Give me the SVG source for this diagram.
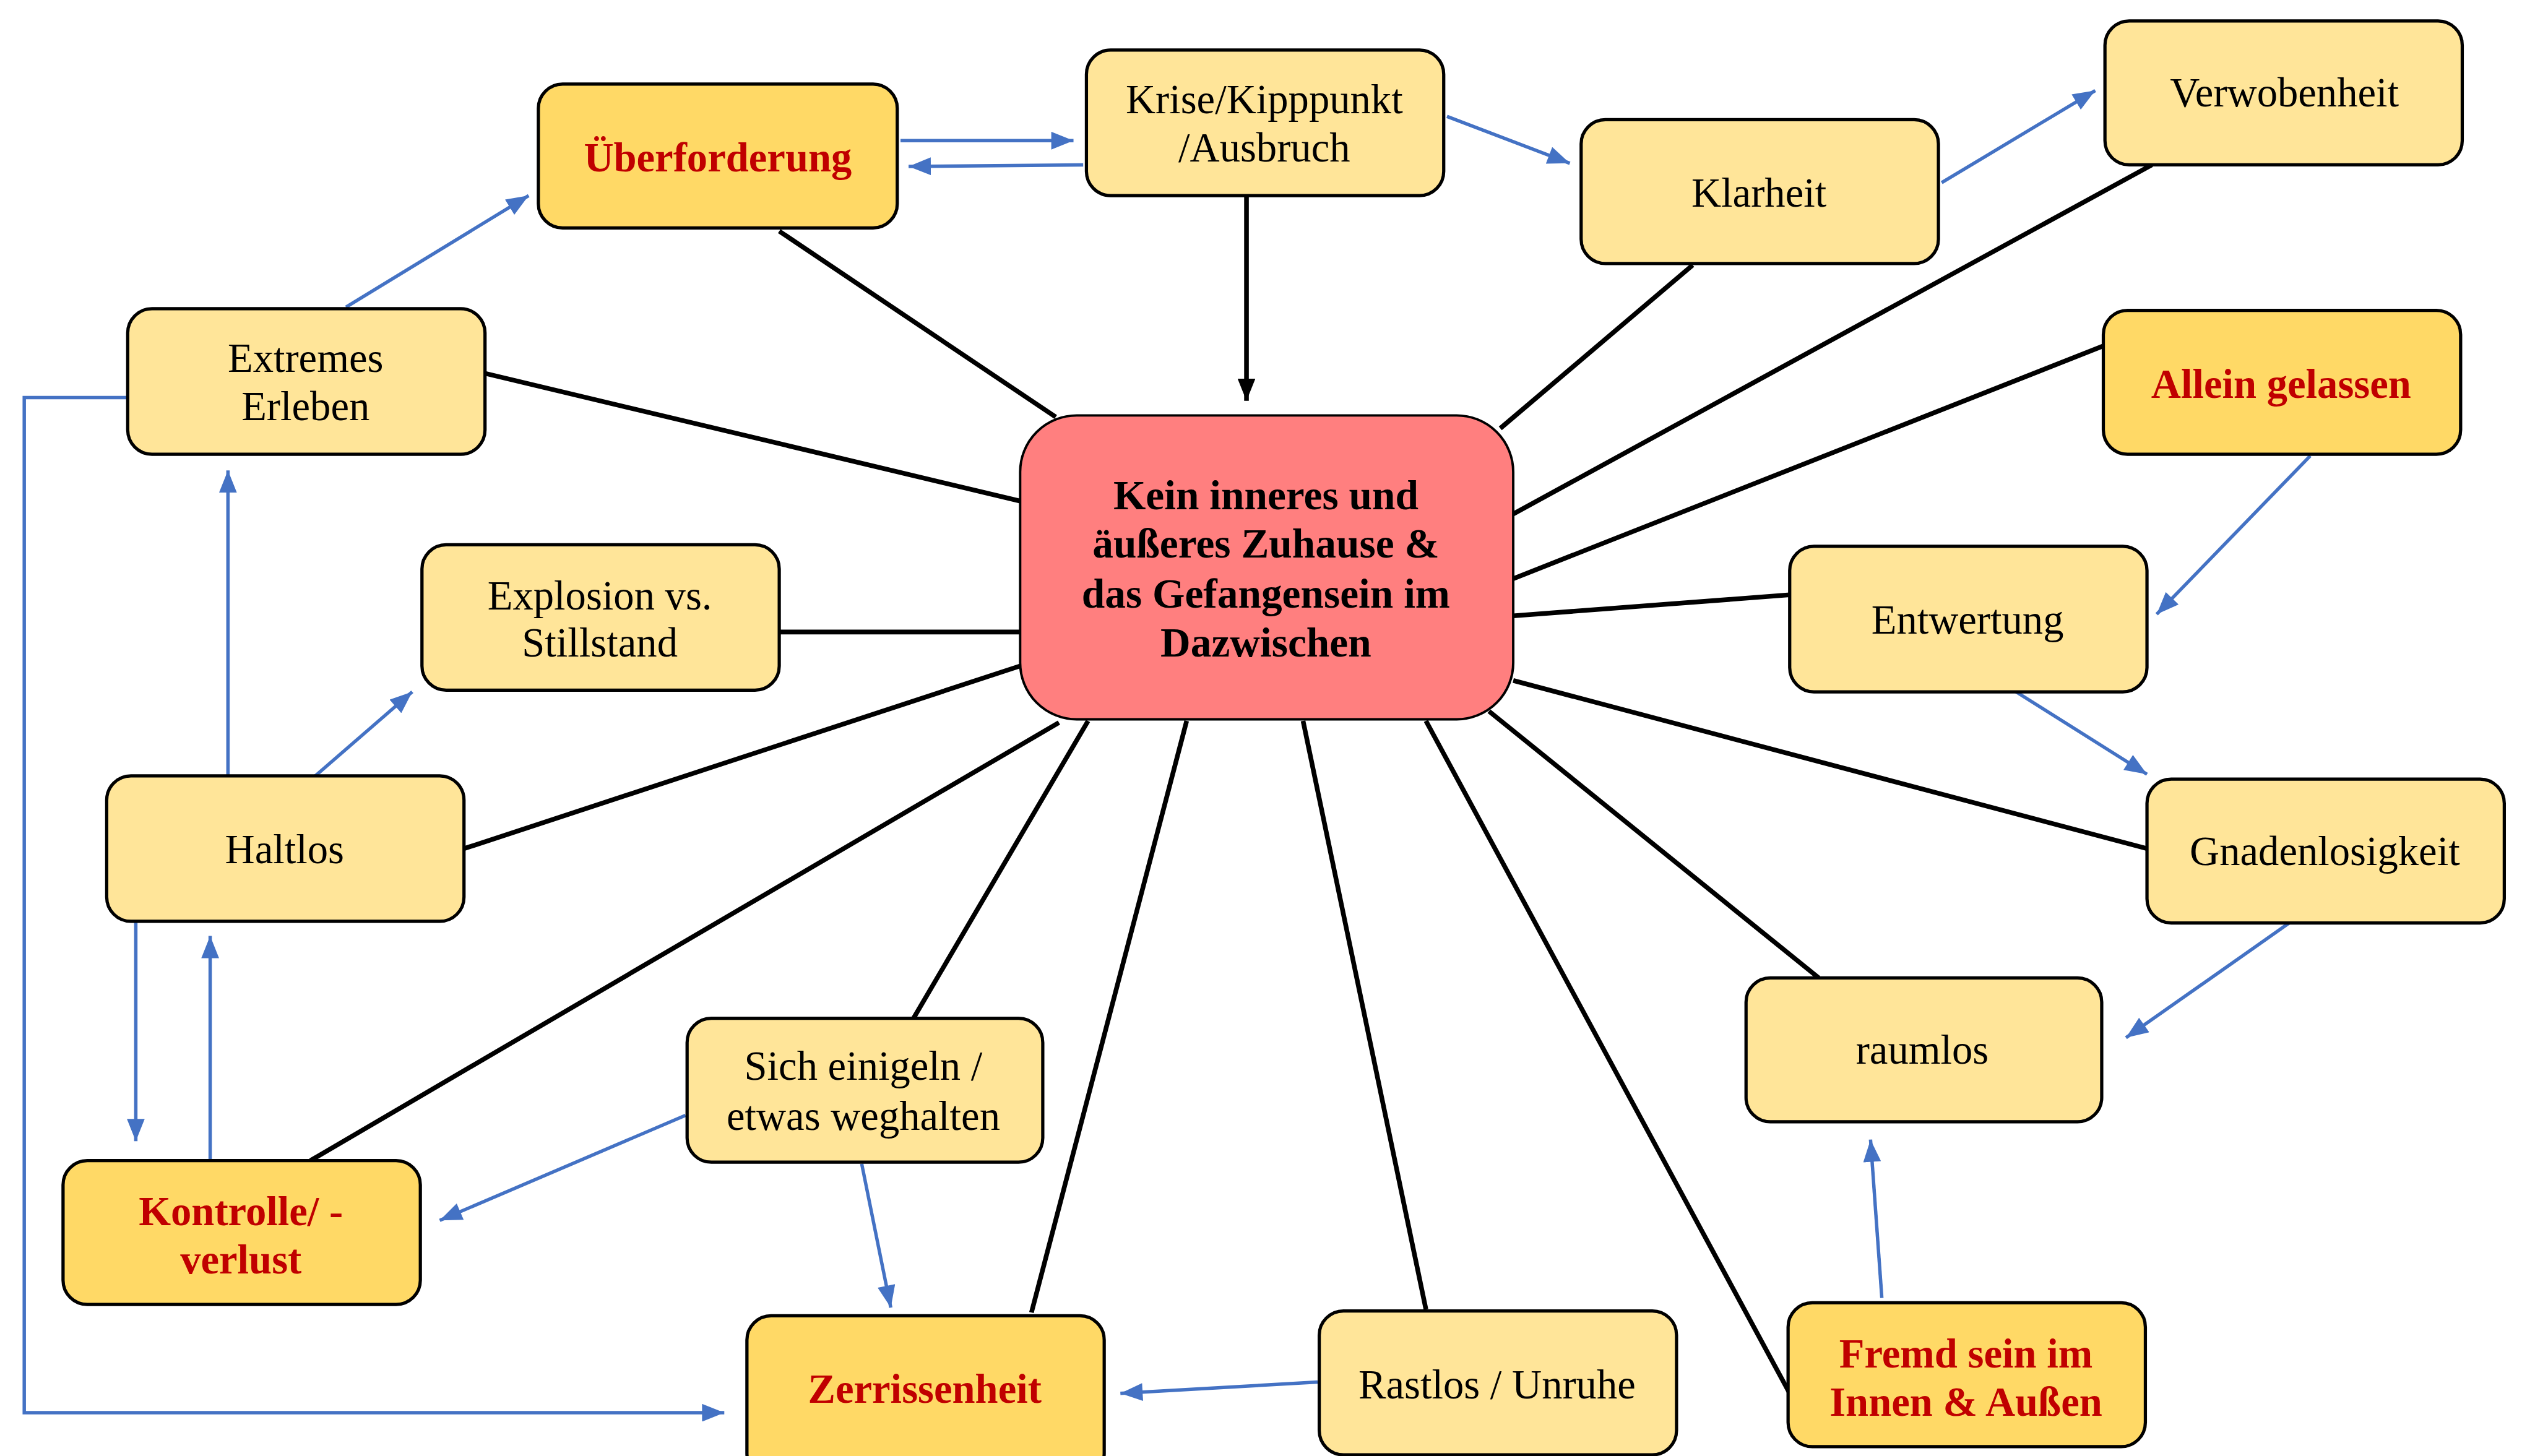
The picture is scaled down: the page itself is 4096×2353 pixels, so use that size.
<svg xmlns="http://www.w3.org/2000/svg" width="4096" height="2353" viewBox="0 0 4096 2353">
<defs>
<style>
.n rect{fill:#FFE599;stroke:#000;stroke-width:2}
.n.h rect{fill:#FFD966}
.n.c rect{fill:#FF7F7F;stroke:#000;stroke-width:1.5}
.n text{font-family:"Liberation Serif","Times New Roman",serif;font-size:25.5px;fill:#000;text-anchor:middle}
.n.h text{font-weight:bold;fill:#C00000;font-size:25.5px}
.n.c text{font-weight:bold;fill:#000;font-size:25.8px}
.k{stroke:#000;stroke-width:2.9;fill:none}
.b{stroke:#4472C4;stroke-width:2.1;fill:none;marker-end:url(#ab)}
</style>
<marker id="ab" viewBox="0 0 10 8" refX="10" refY="4" markerWidth="14" markerHeight="11" markerUnits="userSpaceOnUse" orient="auto"><path d="M0,0 L10,4 L0,8 z" fill="#4472C4"/></marker>
<marker id="ak" viewBox="0 0 10 8" refX="10" refY="4" markerWidth="14" markerHeight="11" markerUnits="userSpaceOnUse" orient="auto"><path d="M0,0 L10,4 L0,8 z" fill="#000"/></marker>
</defs>
<rect width="4096" height="2353" fill="#fff"/>
<g transform="scale(2.612245)">
<g id="connectors">
<line class="k" x1="482" y1="143" x2="653" y2="258"/>
<line class="k" x1="771" y1="121" x2="771" y2="248" marker-end="url(#ak)"/>
<line class="k" x1="1047" y1="164" x2="928" y2="265"/>
<line class="k" x1="1331" y1="102" x2="936" y2="318"/>
<line class="k" x1="300" y1="231" x2="631" y2="310"/>
<line class="k" x1="1301" y1="214" x2="936" y2="358"/>
<line class="k" x1="482" y1="391" x2="631" y2="391"/>
<line class="k" x1="1107" y1="368" x2="936" y2="381"/>
<line class="k" x1="287" y1="525" x2="631" y2="412"/>
<line class="k" x1="1328" y1="525" x2="936" y2="421"/>
<line class="k" x1="192" y1="718" x2="655" y2="447"/>
<line class="k" x1="1125" y1="605" x2="921" y2="440"/>
<line class="k" x1="565" y1="630" x2="673" y2="446"/>
<line class="k" x1="638" y1="812" x2="734" y2="446"/>
<line class="k" x1="882" y1="810" x2="806" y2="446"/>
<line class="k" x1="1107" y1="862" x2="882" y2="446"/>
<line class="b" x1="557" y1="87" x2="664" y2="87"/>
<line class="b" x1="670" y1="102" x2="562" y2="103"/>
<line class="b" x1="895" y1="72" x2="971" y2="101"/>
<line class="b" x1="1201" y1="113" x2="1296" y2="56"/>
<line class="b" x1="214" y1="190" x2="327" y2="121"/>
<polyline class="b" points="79,246 15,246 15,874 448,874"/>
<line class="b" x1="141" y1="480" x2="141" y2="291"/>
<line class="b" x1="195" y1="480" x2="255" y2="428"/>
<line class="b" x1="84" y1="570" x2="84" y2="706"/>
<line class="b" x1="130" y1="718" x2="130" y2="579"/>
<line class="b" x1="424" y1="690" x2="272" y2="755"/>
<line class="b" x1="533" y1="720" x2="551" y2="809"/>
<line class="b" x1="815" y1="855" x2="693" y2="862"/>
<line class="b" x1="1429" y1="282" x2="1334" y2="380"/>
<line class="b" x1="1247" y1="428" x2="1328" y2="479"/>
<line class="b" x1="1416" y1="571" x2="1315" y2="642"/>
<line class="b" x1="1164" y1="803" x2="1157" y2="705"/>
</g>
<g id="center" class="n c"><rect x="631" y="257" width="305" height="188" rx="35"/>
<text x="783" y="315">Kein inneres und</text><text x="783" y="345">äußeres Zuhause &amp;</text><text x="783" y="376">das Gefangensein im</text><text x="783" y="406">Dazwischen</text></g>
<g id="ueberforderung" class="n h"><rect x="333" y="52" width="222" height="89" rx="15"/><text x="444" y="106">Überforderung</text></g>
<g id="krise" class="n"><rect x="672" y="31" width="221" height="90" rx="15"/><text x="782" y="70">Krise/Kipppunkt</text><text x="782" y="100">/Ausbruch</text></g>
<g id="klarheit" class="n"><rect x="978" y="74" width="221" height="89" rx="15"/><text x="1088" y="128">Klarheit</text></g>
<g id="verwobenheit" class="n"><rect x="1302" y="13" width="221" height="89" rx="15"/><text x="1413" y="66">Verwobenheit</text></g>
<g id="extremes" class="n"><rect x="79" y="191" width="221" height="90" rx="15"/><text x="189" y="230">Extremes</text><text x="189" y="260">Erleben</text></g>
<g id="allein" class="n h"><rect x="1301" y="192" width="221" height="89" rx="15"/><text x="1411" y="246">Allein gelassen</text></g>
<g id="explosion" class="n"><rect x="261" y="337" width="221" height="90" rx="15"/><text x="371" y="377">Explosion vs.</text><text x="371" y="406">Stillstand</text></g>
<g id="entwertung" class="n"><rect x="1107" y="338" width="221" height="90" rx="15"/><text x="1217" y="392">Entwertung</text></g>
<g id="haltlos" class="n"><rect x="66" y="480" width="221" height="90" rx="15"/><text x="176" y="534">Haltlos</text></g>
<g id="gnadenlosigkeit" class="n"><rect x="1328" y="482" width="221" height="89" rx="15"/><text x="1438" y="535">Gnadenlosigkeit</text></g>
<g id="raumlos" class="n"><rect x="1080" y="605" width="220" height="89" rx="15"/><text x="1189" y="658">raumlos</text></g>
<g id="einigeln" class="n"><rect x="425" y="630" width="220" height="89" rx="15"/><text x="534" y="668">Sich einigeln /</text><text x="534" y="699">etwas weghalten</text></g>
<g id="kontrolle" class="n h"><rect x="39" y="718" width="221" height="89" rx="15"/><text x="149" y="758">Kontrolle/ -</text><text x="149" y="788">verlust</text></g>
<g id="zerrissenheit" class="n h"><rect x="462" y="814" width="221" height="100" rx="15"/><text x="572" y="868">Zerrissenheit</text></g>
<g id="rastlos" class="n"><rect x="816" y="811" width="221" height="89" rx="15"/><text x="926" y="865">Rastlos / Unruhe</text></g>
<g id="fremd" class="n h"><rect x="1106" y="806" width="221" height="89" rx="15"/><text x="1216" y="846">Fremd sein im</text><text x="1216" y="876">Innen &amp; Außen</text></g>
</g>
</svg>
